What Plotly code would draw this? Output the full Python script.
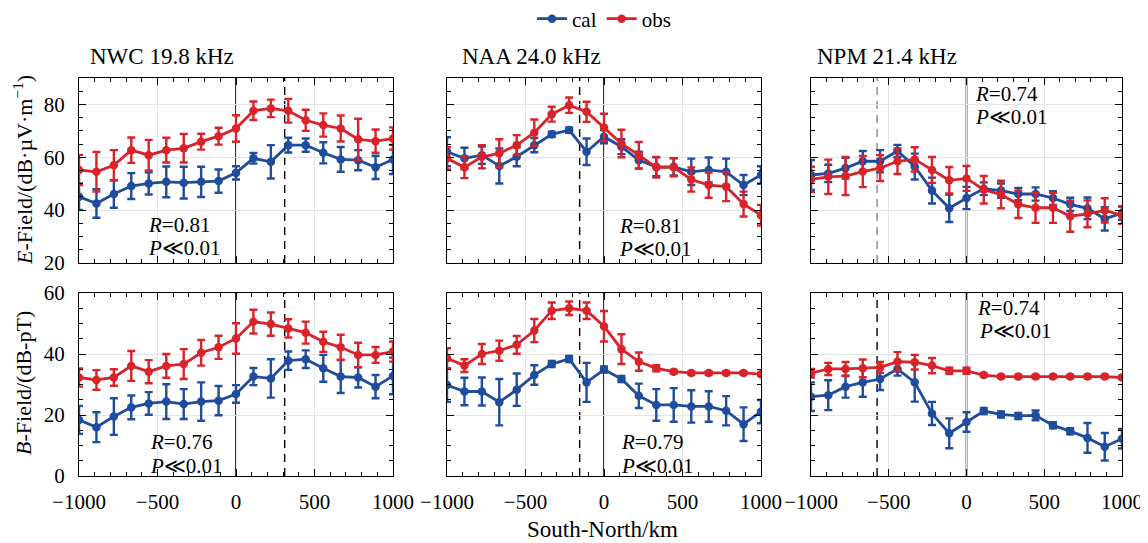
import plotly.graph_objects as go

W, H = 1148, 543
OFF = 8  # page body margin of the html page

# ---------------- data ----------------
distance_km = [-1000, -889, -778, -667, -556, -444, -333, -222, -111, 0,
               111, 222, 333, 444, 556, 667, 778, 889, 1000]

station_titles = ["NWC 19.8 kHz", "NAA 24.0 kHz", "NPM 21.4 kHz"]
dashed_line_km = [310, -155, -575]

# NWC E-field
nwc_e_cal = [45.1, 42.5, 46.1, 49.1, 50.1, 50.7, 50.4, 50.7, 51.0, 54.1, 59.6, 58.3, 64.6, 64.6, 61.7, 59.2, 58.9, 56.2, 59.2]
nwc_e_cal_err = [5.0, 5.4, 5.2, 4.9, 4.2, 5.8, 6.0, 5.7, 4.4, 2.5, 2.0, 6.3, 2.8, 2.5, 4.0, 4.7, 3.8, 4.4, 5.5]
nwc_e_obs = [55.2, 54.5, 57.0, 62.7, 60.8, 62.7, 63.4, 65.9, 68.0, 70.9, 77.6, 78.5, 77.6, 74.0, 72.2, 70.9, 66.8, 66.1, 67.1]
nwc_e_obs_err = [5.7, 7.5, 5.7, 4.8, 5.8, 4.7, 5.4, 3.0, 3.2, 5.0, 3.5, 3.3, 4.5, 4.0, 4.4, 4.9, 7.8, 4.4, 4.2]

# NAA E-field
naa_e_cal = [62.1, 59.6, 60.8, 56.7, 60.2, 64.6, 68.7, 70.3, 62.1, 67.8, 64.0, 58.9, 56.4, 56.4, 54.5, 55.2, 54.5, 49.5, 53.3]
naa_e_cal_err = [5.5, 4.0, 3.3, 6.6, 3.6, 2.7, 1.0, 1.0, 5.0, 2.5, 2.8, 3.2, 3.6, 3.3, 5.0, 4.7, 5.0, 3.8, 3.3]
naa_e_obs = [59.6, 56.2, 60.2, 61.5, 64.6, 69.3, 76.3, 79.7, 77.2, 71.3, 65.2, 60.8, 56.2, 56.2, 51.6, 49.5, 48.9, 42.3, 38.1]
naa_e_obs_err = [4.2, 4.1, 4.4, 5.3, 3.8, 5.0, 2.8, 2.9, 3.8, 5.2, 5.2, 5.0, 3.9, 3.4, 4.6, 4.8, 5.5, 4.7, 3.9]

# NPM E-field
npm_e_cal = [53.3, 53.9, 55.9, 58.5, 58.5, 62.4, 56.5, 47.4, 40.7, 44.6, 48.1, 47.4, 46.1, 46.1, 44.6, 42.2, 40.7, 36.7, 38.9]
npm_e_cal_err = [5.7, 3.3, 3.9, 3.9, 4.2, 2.3, 4.9, 4.9, 5.2, 4.2, 2.4, 2.7, 2.3, 2.5, 2.6, 2.5, 4.1, 4.4, 2.6]
npm_e_obs = [51.6, 52.6, 52.9, 54.6, 55.9, 58.5, 59.2, 55.2, 51.3, 52.0, 47.7, 45.9, 42.2, 40.9, 40.9, 37.7, 38.6, 39.9, 38.1]
npm_e_obs_err = [4.8, 6.5, 7.2, 5.9, 4.9, 4.8, 4.6, 4.9, 5.0, 4.7, 5.2, 5.2, 5.2, 5.7, 5.7, 5.9, 5.1, 4.6, 3.3]

# NWC B-field
nwc_b_cal = [18.4, 16.0, 19.5, 22.5, 23.8, 24.4, 23.6, 24.4, 24.7, 26.9, 32.6, 32.0, 37.8, 38.3, 35.3, 32.6, 32.3, 29.3, 32.8]
nwc_b_cal_err = [4.6, 4.9, 6.0, 3.9, 3.7, 5.7, 4.9, 6.3, 4.8, 2.9, 2.8, 6.3, 3.0, 2.9, 4.4, 5.4, 3.3, 3.8, 6.0]
nwc_b_obs = [32.3, 31.5, 32.3, 36.1, 34.2, 36.1, 36.7, 40.4, 42.2, 45.1, 50.6, 49.8, 48.4, 47.0, 44.0, 42.2, 39.7, 39.7, 40.8]
nwc_b_obs_err = [3.0, 3.2, 2.7, 4.9, 3.8, 3.9, 4.9, 4.2, 3.8, 5.0, 3.9, 3.8, 3.0, 3.6, 3.3, 4.1, 4.0, 2.6, 3.3]

# NAA B-field
naa_b_cal = [29.8, 27.7, 27.7, 24.2, 28.3, 33.1, 36.7, 38.4, 30.7, 34.9, 31.8, 26.3, 23.3, 23.3, 22.8, 22.8, 21.4, 17.0, 21.1]
naa_b_cal_err = [5.5, 4.5, 4.6, 7.6, 5.3, 3.2, 1.0, 1.0, 6.4, 1.0, 1.0, 4.0, 5.2, 5.5, 5.3, 5.0, 4.8, 5.5, 3.8]
naa_b_obs = [38.6, 36.2, 40.0, 41.1, 43.0, 47.7, 54.2, 55.0, 54.2, 49.1, 41.6, 37.5, 35.3, 34.2, 33.8, 33.8, 33.8, 33.8, 33.4]
naa_b_obs_err = [3.3, 2.1, 3.3, 3.3, 2.9, 3.8, 2.7, 2.2, 2.7, 5.0, 4.9, 3.0, 1.0, 0.6, 0.5, 0.5, 0.5, 0.5, 0.5]

# NPM B-field
npm_b_cal = [26.0, 26.5, 29.3, 30.7, 31.8, 35.1, 30.7, 20.5, 14.0, 17.7, 21.3, 20.2, 19.7, 19.9, 16.6, 14.7, 12.5, 9.6, 12.2]
npm_b_cal_err = [4.7, 4.9, 3.6, 4.7, 3.6, 2.2, 6.3, 3.8, 4.9, 3.2, 1.0, 1.0, 1.0, 1.6, 1.0, 1.0, 4.9, 4.5, 3.2]
npm_b_obs = [33.7, 35.1, 35.1, 35.3, 35.6, 37.5, 37.3, 36.2, 34.5, 34.5, 33.1, 32.6, 32.6, 32.6, 32.6, 32.6, 32.6, 32.6, 32.3]
npm_b_obs_err = [1.4, 2.0, 2.3, 2.9, 1.8, 3.1, 2.4, 2.5, 1.0, 1.0, 0.5, 0.5, 0.5, 0.5, 0.5, 0.5, 0.5, 0.5, 0.5]

r_values = ["0.81", "0.81", "0.74", "0.76", "0.79", "0.74"]

# ---------------- style / layout ----------------
FONT = "Liberation Serif, 'Times New Roman', DejaVu Serif, serif"
BLUE = "#1f4c9c"
RED = "#d9232a"

col_px = [(79, 393), (447, 761), (811, 1122)]
row_px = [(78, 263), (293, 476)]
y_ranges = [(20, 90), (0, 60)]

panels = [
    (nwc_e_cal, nwc_e_cal_err, nwc_e_obs, nwc_e_obs_err),
    (naa_e_cal, naa_e_cal_err, naa_e_obs, naa_e_obs_err),
    (npm_e_cal, npm_e_cal_err, npm_e_obs, npm_e_obs_err),
    (nwc_b_cal, nwc_b_cal_err, nwc_b_obs, nwc_b_obs_err),
    (naa_b_cal, naa_b_cal_err, naa_b_obs, naa_b_obs_err),
    (npm_b_cal, npm_b_cal_err, npm_b_obs, npm_b_obs_err),
]

# annotation positions (px): (left x, R center y, P center y)
stat_pos = [(146, 225, 248), (617, 226, 249), (973, 94, 117),
            (148, 442, 466), (619, 442, 466), (975, 308, 331)]


def px2x(px):
    return (px - OFF) / W


def px2y(py):
    return 1 - (py - OFF) / H


fig = go.Figure()
layout = dict(
    width=W, height=H,
    margin=dict(l=0, r=0, t=0, b=0, pad=0, autoexpand=False),
    paper_bgcolor="white", plot_bgcolor="white",
    font=dict(family=FONT, size=21, color="black"),
    showlegend=True,
    legend=dict(orientation="h", x=px2x(604), y=px2y(19), xanchor="center", yanchor="middle",
                font=dict(family=FONT, size=21), bgcolor="rgba(0,0,0,0)",
                itemwidth=30, tracegroupgap=0),
)
shapes = []
annotations = []

for idx, (cal, cal_err, obs, obs_err) in enumerate(panels):
    r, c = divmod(idx, 3)
    n = idx + 1
    xa = "x" if n == 1 else f"x{n}"
    ya = "y" if n == 1 else f"y{n}"
    show_leg = idx == 0
    fig.add_trace(go.Scatter(
        x=distance_km, y=cal, xaxis=xa, yaxis=ya, mode="lines+markers", name="cal",
        legendgroup="cal", showlegend=show_leg,
        line=dict(color=BLUE, width=2.8), marker=dict(color=BLUE, size=8.5),
        error_y=dict(type="data", array=cal_err, color=BLUE, thickness=2.4, width=4),
    ))
    fig.add_trace(go.Scatter(
        x=distance_km, y=obs, xaxis=xa, yaxis=ya, mode="lines+markers", name="obs",
        legendgroup="obs", showlegend=show_leg,
        line=dict(color=RED, width=2.8), marker=dict(color=RED, size=8.5),
        error_y=dict(type="data", array=obs_err, color=RED, thickness=2.4, width=4),
    ))

    x0, x1 = col_px[c]
    y0, y1 = row_px[r]
    axis_common = dict(
        showline=True, linecolor="black", linewidth=1.3, mirror="allticks",
        ticks="inside", ticklen=7, tickwidth=1.2, tickcolor="black",
        showgrid=True, gridcolor="#e4e4e4", gridwidth=1, zeroline=False,
        automargin=False,
        tickfont=dict(family=FONT, size=21, color="black"),
    )
    layout[f"xaxis{n if n > 1 else ''}"] = dict(
        axis_common, domain=[px2x(x0), px2x(x1)], range=[-1000, 1000], anchor=ya,
        tick0=0, dtick=500, showticklabels=(r == 1), ticklabelstandoff=7,
        minor=dict(dtick=100, tick0=0, ticks="inside", ticklen=3.5, tickwidth=1, tickcolor="black",
                   showgrid=False),
    )
    yr = y_ranges[r]
    layout[f"yaxis{n if n > 1 else ''}"] = dict(
        axis_common, domain=[px2y(y1), px2y(y0)], range=list(yr), anchor=xa,
        tick0=0, dtick=20, showticklabels=(c == 0), ticklabelstandoff=9,
        minor=dict(dtick=5, tick0=0, ticks="inside", ticklen=3.5, tickwidth=1, tickcolor="black",
                   showgrid=False),
    )

    # reference lines
    shapes.append(dict(type="line", xref=xa, yref=f"{ya} domain", x0=0, x1=0, y0=0, y1=1,
                       line=dict(color="black", width=1.6), layer="below"))
    dash_col = "#8a8a8a" if (r == 0 and c == 2) else "black"
    shapes.append(dict(type="line", xref=xa, yref=f"{ya} domain",
                       x0=dashed_line_km[c], x1=dashed_line_km[c], y0=0, y1=1,
                       line=dict(color=dash_col, width=1.4, dash="8px,6px"), layer="below"))

    sx, ry, py = stat_pos[idx]
    annotations.append(dict(xref="paper", yref="paper", x=px2x(sx), y=px2y(ry),
                            xanchor="left", yanchor="middle", showarrow=False,
                            text=f"<i>R</i>={r_values[idx]}", font=dict(family=FONT, size=21)))
    annotations.append(dict(xref="paper", yref="paper", x=px2x(sx + (2 if idx == 5 else 0)), y=px2y(py),
                            xanchor="left", yanchor="middle", showarrow=False,
                            text="<i>P</i>≪0.01", font=dict(family=FONT, size=21)))

# station titles
for c, t in enumerate(station_titles):
    annotations.append(dict(xref="paper", yref="paper", x=px2x([88, 460, 815][c]), y=px2y(57),
                            xanchor="left", yanchor="middle", showarrow=False,
                            text=t, font=dict(family=FONT, size=23)))

# axis titles
annotations.append(dict(xref="paper", yref="paper", x=px2x(602), y=px2y(529),
                        xanchor="center", yanchor="middle", showarrow=False,
                        text="South-North/km", font=dict(family=FONT, size=23)))
annotations.append(dict(xref="paper", yref="paper", x=px2x(23), y=px2y(170),
                        xanchor="center", yanchor="middle", showarrow=False, textangle=-90,
                        text="<i>E</i>-Field/(dB·µV·m<sup>−1</sup>)", font=dict(family=FONT, size=22)))
annotations.append(dict(xref="paper", yref="paper", x=px2x(23), y=px2y(383),
                        xanchor="center", yanchor="middle", showarrow=False, textangle=-90,
                        text="<i>B</i>-Field/(dB-pT)", font=dict(family=FONT, size=22)))

layout["shapes"] = shapes
layout["annotations"] = annotations
fig.update_layout(**layout)

fig.write_html("out.html")
